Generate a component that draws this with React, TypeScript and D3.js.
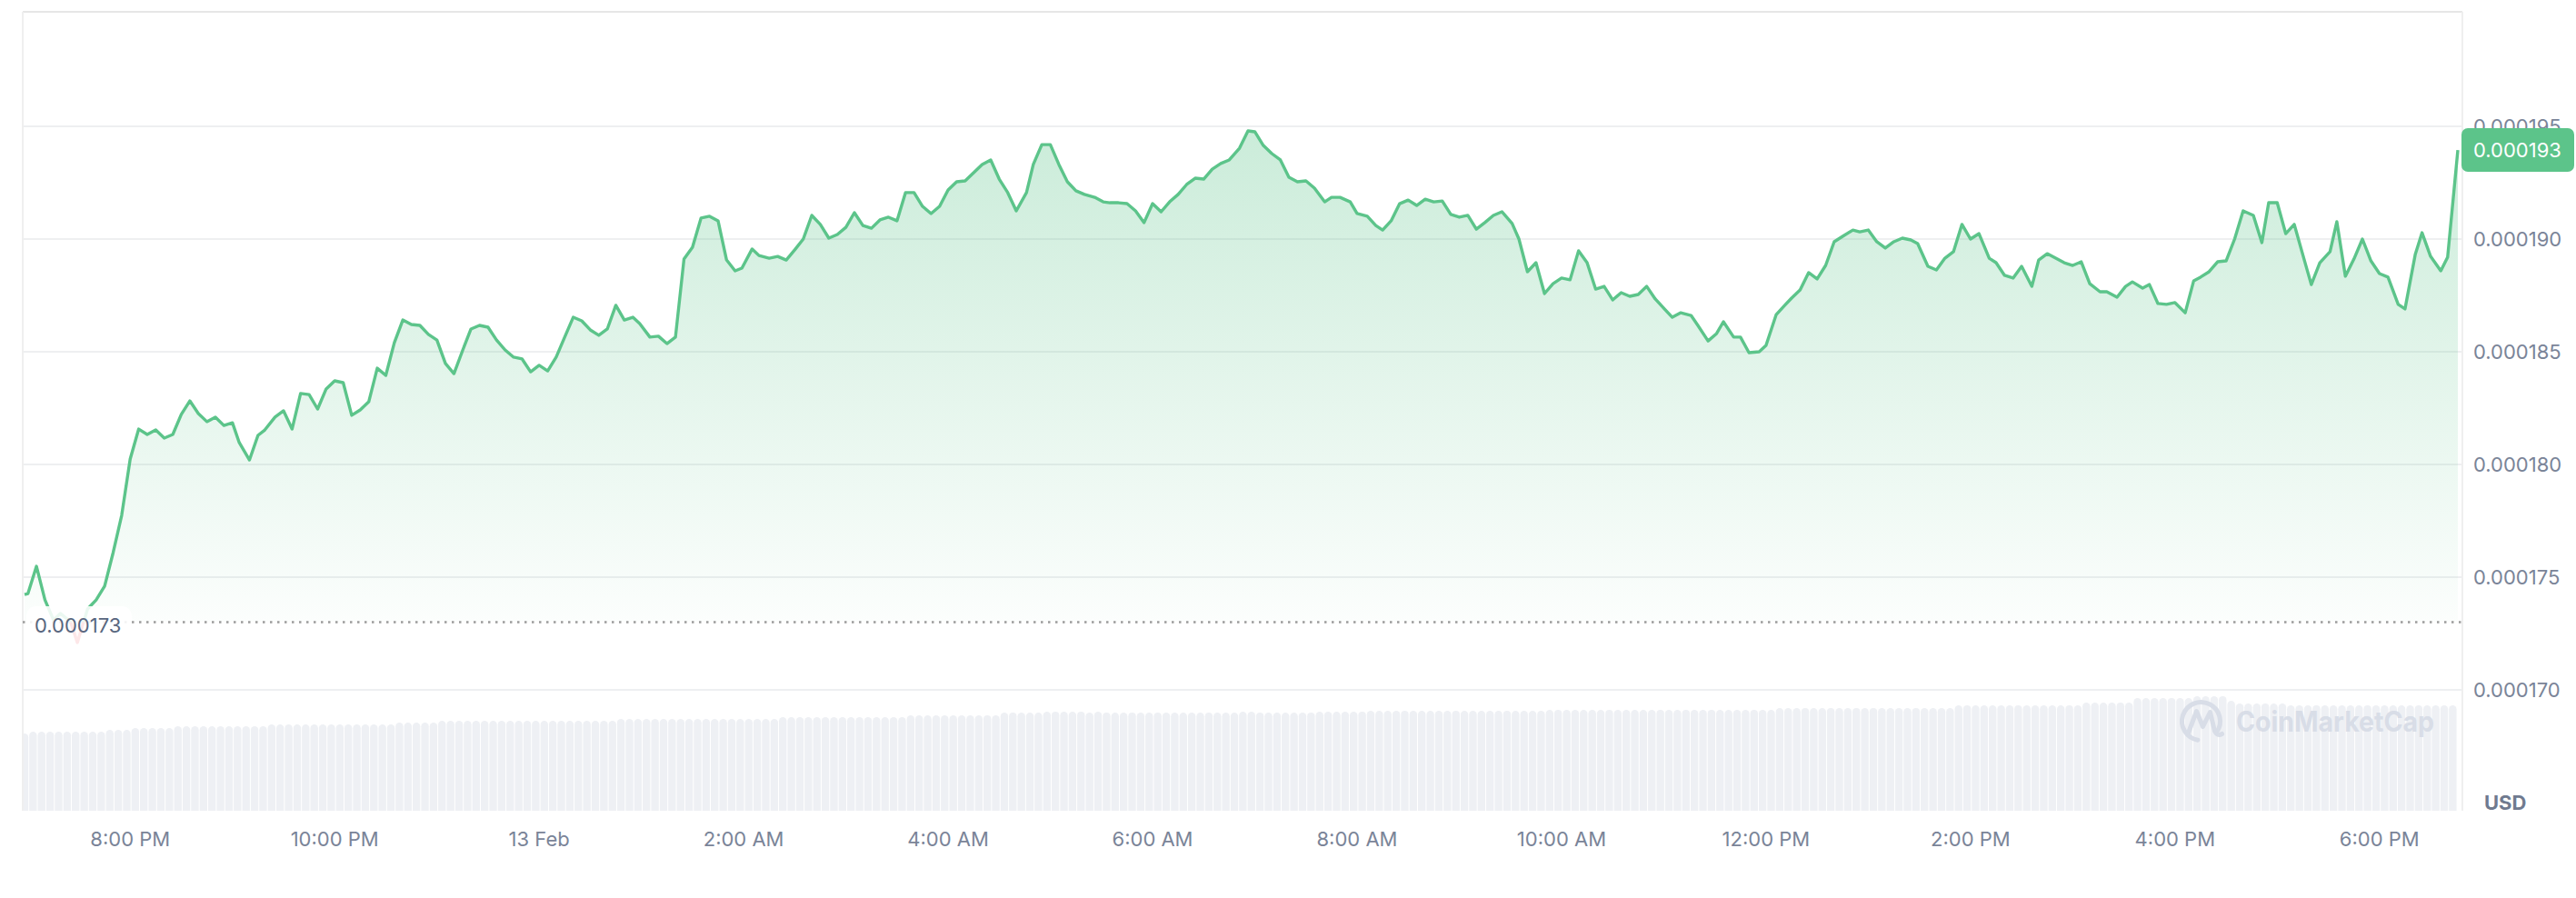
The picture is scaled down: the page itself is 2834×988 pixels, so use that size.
import React from 'react';
import * as d3 from 'd3';

// ---------- data ----------
const START = new Date(2024, 1, 12, 18, 58);
const END_MINUTES = 1428;

// minutes after START for each price vertex
const priceMinutes = [
  0, 2, 7, 12, 17, 21, 27, 31, 37, 42, 47, 52, 57, 62, 67, 72, 77, 82, 87, 92,
  97, 102, 107, 112, 117, 122, 126, 132, 137, 141, 147, 152, 157, 162, 167, 172, 177, 182, 187, 192,
  197, 202, 207, 212, 217, 222, 227, 232, 237, 242, 247, 252, 257, 262, 267, 272, 277, 282, 287, 292,
  297, 302, 307, 312, 317, 322, 327, 332, 337, 342, 347, 352, 357, 361, 367, 372, 377, 382, 387, 392,
  397, 402, 407, 412, 417, 421, 427, 431, 437, 442, 447, 452, 457, 462, 467, 472, 477, 482, 487, 492,
  497, 502, 507, 512, 517, 522, 527, 532, 537, 542, 547, 552, 557, 562, 567, 572, 577, 582, 588, 592,
  597, 602, 607, 612, 617, 622, 628, 633, 637, 642, 647, 652, 657, 662, 667, 672, 677, 682, 687, 692,
  697, 702, 707, 713, 718, 722, 727, 732, 737, 742, 747, 752, 757, 763, 767, 772, 778, 782, 788, 793,
  797, 802, 807, 812, 817, 822, 827, 832, 837, 842, 847, 852, 857, 862, 867, 873, 877, 882, 887, 892,
  897, 902, 907, 912, 917, 922, 927, 932, 937, 942, 947, 952, 957, 963, 967, 972, 978, 982, 988, 993,
  997, 1003, 1007, 1012, 1018, 1022, 1028, 1033, 1037, 1042, 1047, 1052, 1057, 1062, 1067, 1073, 1077, 1082, 1087, 1092,
  1097, 1102, 1107, 1111, 1117, 1122, 1127, 1132, 1137, 1142, 1147, 1153, 1157, 1162, 1167, 1172, 1178, 1182, 1187, 1193,
  1197, 1202, 1207, 1212, 1218, 1222, 1228, 1233, 1237, 1243, 1247, 1252, 1257, 1262, 1268, 1273, 1277, 1282, 1287, 1292,
  1297, 1302, 1308, 1313, 1317, 1322, 1327, 1332, 1337, 1342, 1347, 1353, 1357, 1362, 1367, 1372, 1377, 1382, 1387, 1393,
  1397, 1403, 1407, 1412, 1418, 1422, 1428,
];

// price in millionths of a USD (x 1e-6)
const priceMicroUSD = [
  174.23, 174.27, 175.48, 173.99, 173.10, 173.39, 173.02, 172.10, 173.59, 173.99, 174.60, 176.09, 177.74, 180.24, 181.57, 181.33, 181.53, 181.17, 181.33, 182.22,
  182.82, 182.26, 181.90, 182.10, 181.73, 181.85, 180.97, 180.20, 181.29, 181.53, 182.10, 182.38, 181.57, 183.15, 183.10, 182.46, 183.35, 183.71, 183.63, 182.18,
  182.42, 182.78, 184.27, 183.95, 185.40, 186.41, 186.21, 186.17, 185.77, 185.52, 184.48, 184.03, 185.04, 186.01, 186.17, 186.09, 185.52, 185.08, 184.76, 184.68,
  184.11, 184.40, 184.15, 184.76, 185.65, 186.53, 186.37, 185.97, 185.73, 186.01, 187.06, 186.41, 186.53, 186.25, 185.65, 185.69, 185.36, 185.65, 189.11, 189.64,
  190.93, 191.01, 190.81, 189.07, 188.59, 188.71, 189.56, 189.27, 189.15, 189.23, 189.07, 189.52, 190.00, 191.05, 190.65, 190.04, 190.20, 190.52, 191.17, 190.60,
  190.48, 190.85, 190.97, 190.81, 192.06, 192.06, 191.45, 191.13, 191.45, 192.18, 192.54, 192.58, 192.94, 193.31, 193.51, 192.66, 192.06, 191.25, 192.06, 193.31,
  194.19, 194.19, 193.31, 192.54, 192.14, 191.98, 191.85, 191.65, 191.61, 191.61, 191.57, 191.25, 190.73, 191.57, 191.21, 191.65, 191.98, 192.42, 192.70, 192.66,
  193.10, 193.35, 193.51, 194.03, 194.80, 194.76, 194.15, 193.79, 193.51, 192.74, 192.54, 192.58, 192.26, 191.65, 191.85, 191.85, 191.65, 191.13, 191.01, 190.60,
  190.40, 190.81, 191.57, 191.73, 191.49, 191.77, 191.65, 191.69, 191.09, 190.97, 191.05, 190.44, 190.73, 191.05, 191.21, 190.69, 190.00, 188.55, 188.95, 187.58,
  188.02, 188.27, 188.19, 189.48, 188.95, 187.78, 187.90, 187.30, 187.62, 187.46, 187.54, 187.90, 187.34, 186.85, 186.53, 186.73, 186.61, 186.17, 185.48, 185.81,
  186.33, 185.65, 185.65, 184.96, 185.00, 185.28, 186.65, 187.06, 187.38, 187.74, 188.51, 188.23, 188.83, 189.88, 190.12, 190.40, 190.32, 190.40, 189.88, 189.60,
  189.88, 190.04, 189.96, 189.80, 188.79, 188.63, 189.15, 189.44, 190.65, 190.00, 190.24, 189.15, 188.95, 188.39, 188.27, 188.79, 187.90, 189.07, 189.35, 189.11,
  188.95, 188.83, 188.99, 188.02, 187.66, 187.66, 187.42, 187.90, 188.10, 187.82, 187.98, 187.14, 187.10, 187.18, 186.73, 188.15, 188.31, 188.55, 188.99, 189.03,
  190.00, 191.25, 191.05, 189.84, 191.61, 191.61, 190.24, 190.65, 189.31, 187.98, 188.95, 189.44, 190.77, 188.35, 189.11, 190.00, 189.03, 188.47, 188.31, 187.10,
  186.90, 189.31, 190.28, 189.23, 188.59, 189.19, 193.95,
];

// relative 24h volume, one bar every 5 minutes from START
const volumeValues = [
  85,
  87, 87, 87, 87, 87, 87, 87, 87, 87,
  89, 89, 89,
  91, 91, 91, 91, 91,
  93, 93, 93, 93, 93, 93, 93, 93, 93, 93, 93,
  95, 95, 95, 95, 95, 95, 95, 95, 95, 95, 95, 95, 95, 95, 95,
  97, 97, 97, 97, 97,
  99, 99, 99, 99, 99, 99, 99, 99, 99, 99, 99, 99, 99, 99, 99, 99, 99, 99, 99, 99, 99,
  101, 101, 101, 101, 101, 101, 101, 101, 101, 101, 101, 101, 101, 101, 101, 101, 101, 101, 101,
  103, 103, 103, 103, 103, 103, 103, 103, 103, 103, 103, 103, 103, 103, 103,
  105, 105, 105, 105, 105, 105, 105, 105, 105, 105, 105,
  108, 108, 108, 108, 108,
  109, 109, 109, 109, 109, 108, 109,
  108, 108, 108, 108, 108, 108, 108, 108, 108, 108, 108, 108, 108, 108, 108, 108,
  109, 109,
  108, 108, 108, 108, 108, 108, 108,
  109, 109, 109, 109, 109, 109,
  110, 110, 110, 110, 110, 110, 110, 110, 110, 110, 110, 110, 110, 110, 110, 110, 110, 110, 110, 110, 110,
  111, 111, 111, 111, 111, 111, 111, 111, 111, 111, 111, 111, 111, 111, 111, 111, 111, 111, 111, 111, 111, 111, 111, 111, 111, 111, 111,
  113, 113, 113, 113, 113, 113, 113, 113, 113, 113, 113, 113, 113, 113, 113, 113, 113, 113, 113, 113, 113,
  116, 116, 116, 116, 116, 116, 116, 116, 116, 116, 116, 116, 116, 116, 116,
  119, 119, 119, 119, 119, 119,
  124, 124, 124, 124, 124, 124, 124,
  126, 126, 126, 126,
  121,
  118, 118, 118, 118, 118, 118,
  116, 116, 116, 116, 116, 116, 116, 116, 116, 116, 116, 116, 116, 116, 116, 116, 116, 116, 116, 116,
];

const yTickValues = [0.00017, 0.000175, 0.00018, 0.000185, 0.00019, 0.000195];
const yTickLabels = ['0.000170', '0.000175', '0.000180', '0.000185', '0.000190', '0.000195'];
const xTickLabels = ['8:00 PM', '10:00 PM', '13 Feb', '2:00 AM', '4:00 AM', '6:00 AM', '8:00 AM', '10:00 AM', '12:00 PM', '2:00 PM', '4:00 PM', '6:00 PM'];
const baselinePrice = 0.000173;
const baselineLabel = '0.000173';
const lastPriceLabel = '0.000193';
const currencyLabel = 'USD';
const watermarkText = 'CoinMarketCap';

// ---------- styling ----------
const GREEN = '#5cc48a';
const RED = '#ea3943';
const FONT = 'Inter, "Noto Sans", sans-serif';
const AXIS_TEXT = '#7a8498';

const addMin = (m: number) => new Date(START.getTime() + m * 60000);

export default function App() {
  const W = 2834;
  const H = 988;
  const plotLeft = 25;
  const plotRight = 2709;
  const plotTop = 13;
  const plotBottom = 892;

  const x = d3.scaleTime().domain([START, addMin(END_MINUTES)]).range([27, 2704]);
  const y = d3.scaleLinear().domain([0.00017, 0.000195]).range([759, 139]);
  const vol = d3.scaleLinear().domain([0, 130]).range([plotBottom, plotBottom - 130]);

  const data = priceMinutes.map((m, i) => ({ t: addMin(m), v: priceMicroUSD[i] * 1e-6 }));
  const yBase = y(baselinePrice);

  const line = d3.line<{ t: Date; v: number }>().x((d) => x(d.t)).y((d) => y(d.v));
  const area = d3
    .area<{ t: Date; v: number }>()
    .x((d) => x(d.t))
    .y0(yBase)
    .y1((d) => y(d.v));

  const linePath = line(data) || '';
  const areaPath = area(data) || '';
  const maxY = y(d3.max(data, (d) => d.v) as number);
  const minY = y(d3.min(data, (d) => d.v) as number);

  const step = x(addMin(5)) - x(addMin(0));
  const barW = step - 1;
  const bars = volumeValues.map((v, k) => {
    const cx = x(addMin(k * 5));
    const left = cx - barW / 2;
    const top = vol(v);
    const r = barW / 2;
    return `M${left},${plotBottom}V${top + r}A${r},${r} 0 0 1 ${left + barW},${top + r}V${plotBottom}Z`;
  });

  const xTicks = d3.timeHour.every(2)!.range(START, addMin(END_MINUTES));

  const wmCx = 2421.5;
  const wmCy = 793.5;
  const wmR = 21;
  const a1 = (35 * Math.PI) / 180;
  const a2 = (100 * Math.PI) / 180;
  const arcPath = `M${wmCx + wmR * Math.cos(a1)},${wmCy + wmR * Math.sin(a1)}A${wmR},${wmR} 0 1 0 ${wmCx + wmR * Math.cos(a2)},${wmCy + wmR * Math.sin(a2)}`;
  const mPath = `M${wmCx - 14},${wmCy + 13}L${wmCx - 5},${wmCy - 11}L${wmCx + 2},${wmCy + 6}L${wmCx + 10},${wmCy - 10}L${wmCx + 15},${wmCy + 11}Q${wmCx + 18},${wmCy + 17} ${wmCx + 23},${wmCy + 14}`;

  const lastY = y(priceMicroUSD[priceMicroUSD.length - 1] * 1e-6);

  return (
    <svg
      width={W}
      height={H}
      viewBox={`0 0 ${W} ${H}`}
      style={{ position: 'absolute', left: 0, top: 0, background: '#ffffff', fontFamily: FONT }}
    >
      <defs>
        <linearGradient id="gUp" gradientUnits="userSpaceOnUse" x1="0" x2="0" y1={maxY} y2={yBase}>
          <stop offset="0" stopColor={GREEN} stopOpacity={0.32} />
          <stop offset="1" stopColor={GREEN} stopOpacity={0.02} />
        </linearGradient>
        <linearGradient id="gDown" gradientUnits="userSpaceOnUse" x1="0" x2="0" y1={yBase} y2={minY}>
          <stop offset="0" stopColor={RED} stopOpacity={0.02} />
          <stop offset="1" stopColor={RED} stopOpacity={0.3} />
        </linearGradient>
        <clipPath id="cPlot">
          <rect x={plotLeft} y={plotTop} width={plotRight - plotLeft} height={plotBottom - plotTop} />
        </clipPath>
        <clipPath id="cAbove">
          <rect x={plotLeft} y={0} width={plotRight - plotLeft} height={yBase} />
        </clipPath>
        <clipPath id="cBelow">
          <rect x={plotLeft} y={yBase} width={plotRight - plotLeft} height={plotBottom - yBase} />
        </clipPath>
      </defs>

      {/* gridlines */}
      {yTickValues.map((v) => (
        <line key={'g' + v} x1={plotLeft} x2={plotRight} y1={y(v)} y2={y(v)} stroke="#eeeff1" strokeWidth={2} />
      ))}

      {/* volume bars */}
      <g clipPath="url(#cPlot)">
        {bars.map((d, i) => (
          <path key={'b' + i} d={d} fill="#eef0f4" />
        ))}
      </g>

      {/* frame */}
      <line x1={plotLeft} x2={plotRight} y1={plotTop} y2={plotTop} stroke="#e6e6e6" strokeWidth={2} />
      <line x1={plotLeft} x2={plotLeft} y1={plotTop} y2={plotBottom} stroke="#efefef" strokeWidth={2} />
      <line x1={plotRight} x2={plotRight} y1={plotTop} y2={plotBottom} stroke="#efefef" strokeWidth={2} />

      {/* watermark */}
      <g opacity={0.9}>
        <path d={arcPath} fill="none" stroke="#d6dbe6" strokeWidth={5} strokeLinecap="round" />
        <path d={mPath} fill="none" stroke="#d6dbe6" strokeWidth={5} strokeLinecap="round" strokeLinejoin="round" />
        <text x={2460} y={805} fontSize={31} fontWeight={700} fill="#d6dbe6" textLength={218} lengthAdjust="spacingAndGlyphs">
          {watermarkText}
        </text>
      </g>

      {/* areas */}
      <path d={areaPath} fill="url(#gUp)" clipPath="url(#cAbove)" />
      <path d={areaPath} fill="url(#gDown)" clipPath="url(#cBelow)" />

      {/* baseline */}
      <line
        x1={plotLeft}
        x2={plotRight}
        y1={yBase}
        y2={yBase}
        stroke="#9c9c9c"
        strokeWidth={2.5}
        strokeDasharray="2.5 5.5"
      />

      {/* price line */}
      <path d={linePath} fill="none" stroke={GREEN} strokeWidth={3.4} strokeLinejoin="round" clipPath="url(#cAbove)" />
      <path d={linePath} fill="none" stroke={RED} strokeWidth={3.4} strokeLinejoin="round" clipPath="url(#cBelow)" />

      {/* baseline label */}
      <rect x={29} y={667} width={116} height={44} rx={10} fill="#ffffff" fillOpacity={0.88} />
      <text x={38} y={688} fontSize={22} fill="#58667e" dominantBaseline="central">
        {baselineLabel}
      </text>

      {/* y axis labels */}
      {yTickValues.map((v, i) => (
        <text key={'yl' + v} x={2721} y={y(v)} fontSize={22} fill={AXIS_TEXT} dominantBaseline="central">
          {yTickLabels[i]}
        </text>
      ))}

      {/* last price badge */}
      <rect x={2708} y={lastY - 24} width={124} height={48} rx={7} fill={GREEN} />
      <text x={2721} y={lastY} fontSize={22} fill="#ffffff" dominantBaseline="central">
        {lastPriceLabel}
      </text>

      {/* x axis labels */}
      {xTicks.map((t, i) => (
        <text key={'xl' + i} x={x(t)} y={923} fontSize={22} fill={AXIS_TEXT} textAnchor="middle" dominantBaseline="central">
          {xTickLabels[i]}
        </text>
      ))}

      <text x={2733} y={883} fontSize={22} fontWeight={700} fill="#6f7a8f" dominantBaseline="central">
        {currencyLabel}
      </text>
    </svg>
  );
}
